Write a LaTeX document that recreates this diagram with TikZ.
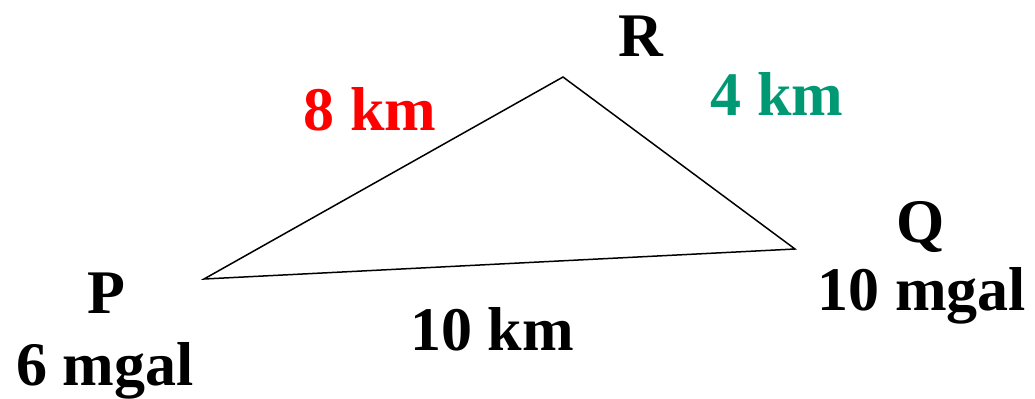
\documentclass[tikz,border=0pt]{standalone}
\usepackage{fontspec}
\setmainfont{Liberation Serif}
\usetikzlibrary{positioning}
\definecolor{sideRed}{HTML}{FF0000}
\definecolor{sideGreen}{HTML}{009973}

\begin{document}
\begin{tikzpicture}[x=0.5pt, y=-0.5pt,
    lbl/.style={font=\fontsize{31}{34}\selectfont\bfseries, inner sep=0pt, anchor=base},
    side/.style={line width=0.75pt, line join=miter}]
  \useasboundingbox (0,0) rectangle (1035,398);
  % corners of the triangle
  \coordinate (p) at (204,279);
  \coordinate (r) at (563,77);
  \coordinate (q) at (795,249);
  \draw[side] (p) -- (r) -- (q) -- cycle;
  % station names and readings
  \node[lbl] (pname) at (106,313) {P};
  \node[lbl] (pval) at (105,385) {6 mgal};
  \node[lbl] (rname) at (641,56) {R};
  \node[lbl] (qname) at (921,242) {Q};
  \node[lbl] (qval) at (922,310) {10 mgal};
  % side lengths
  \node[lbl, sideRed] (pr) at (370,130) {8 km};
  \node[lbl, sideGreen] (rq) at (777,115) {4 km};
  \node[lbl] (pq) at (492,350) {10 km};
\end{tikzpicture}
\end{document}
